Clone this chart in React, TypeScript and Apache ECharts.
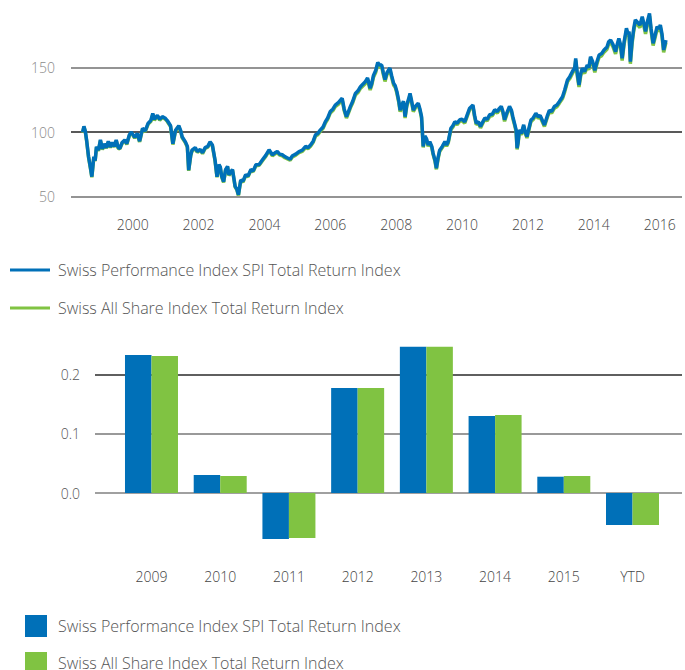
import React, { useEffect, useRef } from "react";
import * as echarts from "echarts";

const SERIES_A = "Swiss Performance Index SPI Total Return Index";
const SERIES_B = "Swiss All Share Index Total Return Index";

// Line chart: dates as decimal years
const lineDates: number[] = [
  1998.48, 1998.52, 1998.56, 1998.6, 1998.66, 1998.72, 1998.76, 1998.82, 1998.86, 1998.9, 1998.96,
  1999.02, 1999.08, 1999.14, 1999.2, 1999.26, 1999.32, 1999.38, 1999.44, 1999.5, 1999.56, 1999.61, 1999.68, 1999.76, 1999.82, 1999.9, 1999.96,
  2000.06, 2000.14, 2000.21, 2000.3, 2000.38, 2000.47, 2000.55, 2000.61, 2000.66, 2000.75, 2000.82, 2000.9, 2000.98,
  2001.05, 2001.15, 2001.22, 2001.3, 2001.4, 2001.46, 2001.5, 2001.6, 2001.66, 2001.7, 2001.76, 2001.8, 2001.9, 2001.96,
  2002.05, 2002.12, 2002.2, 2002.28, 2002.35, 2002.42, 2002.5, 2002.56, 2002.62, 2002.66, 2002.7, 2002.76, 2002.82, 2002.88, 2002.92,
  2003.0, 2003.03, 2003.08, 2003.11, 2003.16, 2003.21, 2003.28, 2003.35, 2003.43, 2003.5, 2003.59, 2003.66, 2003.74, 2003.84, 2003.94,
  2004.04, 2004.14, 2004.24, 2004.32, 2004.39, 2004.46, 2004.54, 2004.62, 2004.7, 2004.78, 2004.85, 2004.95,
  2005.05, 2005.15, 2005.25, 2005.32, 2005.4, 2005.48, 2005.55, 2005.62, 2005.7, 2005.78, 2005.85, 2005.92,
  2006.0, 2006.08, 2006.15, 2006.25, 2006.36, 2006.42, 2006.49, 2006.55, 2006.61, 2006.68, 2006.76, 2006.84, 2006.91, 2006.98,
  2007.06, 2007.13, 2007.21, 2007.26, 2007.31, 2007.38, 2007.44, 2007.5, 2007.56, 2007.61, 2007.66, 2007.72, 2007.81, 2007.86, 2007.92, 2007.97,
  2008.02, 2008.08, 2008.12, 2008.17, 2008.22, 2008.27, 2008.32, 2008.38, 2008.42, 2008.47, 2008.52, 2008.58, 2008.67, 2008.72, 2008.77, 2008.82, 2008.87, 2008.92, 2008.97,
  2009.02, 2009.08, 2009.12, 2009.18, 2009.22, 2009.27, 2009.32, 2009.4, 2009.48, 2009.53, 2009.58, 2009.66, 2009.72, 2009.78, 2009.85, 2009.93,
  2010.0, 2010.08, 2010.15, 2010.23, 2010.33, 2010.38, 2010.43, 2010.5, 2010.56, 2010.63, 2010.69, 2010.76, 2010.84, 2010.92, 2010.99,
  2011.07, 2011.12, 2011.19, 2011.24, 2011.29, 2011.36, 2011.44, 2011.5, 2011.54, 2011.6, 2011.64, 2011.67, 2011.7, 2011.74, 2011.8, 2011.87, 2011.92, 2011.97,
  2012.04, 2012.09, 2012.16, 2012.24, 2012.31, 2012.37, 2012.44, 2012.5, 2012.58, 2012.65, 2012.72, 2012.8, 2012.88, 2012.95,
  2013.05, 2013.12, 2013.2, 2013.27, 2013.35, 2013.42, 2013.45, 2013.5, 2013.55, 2013.6, 2013.65, 2013.72, 2013.8, 2013.85, 2013.9, 2013.96,
  2014.03, 2014.1, 2014.16, 2014.24, 2014.31, 2014.4, 2014.45, 2014.51, 2014.58, 2014.66, 2014.71, 2014.76, 2014.81, 2014.86, 2014.92, 2014.99,
  2015.04, 2015.07, 2015.11, 2015.16, 2015.21, 2015.26, 2015.33, 2015.4, 2015.47, 2015.52, 2015.57, 2015.63, 2015.69, 2015.74, 2015.8, 2015.86, 2015.92, 2015.97,
  2016.02, 2016.07, 2016.12, 2016.16, 2016.19,
];

const spiValues: number[] = [
  100, 104.5, 101, 94, 81, 72, 65.5, 81, 78, 88.7, 86,
  94, 87, 91, 88, 93, 88.5, 92, 89, 94, 88, 87.5, 92, 94, 91, 98, 100,
  96, 99, 93, 103, 101, 107, 109, 114.5, 110, 113, 110, 112, 111,
  109, 105, 91, 101.5, 105, 101, 96.5, 92.5, 89, 70.6, 82, 86, 88, 85,
  86.6, 84, 88, 89, 92.5, 90, 78.4, 65.5, 75, 73, 66, 61.6, 71, 73.5, 67,
  70, 71, 63, 58, 56, 51.5, 63, 62, 67, 66, 71, 70, 74.7, 75, 78.6,
  82, 86.3, 82.5, 84, 85, 83, 82.5, 81, 80, 79, 81.7, 83,
  85, 86, 89, 88, 90, 93, 98, 99, 101.8, 104, 108.2, 111,
  116, 118, 121, 123, 126.3, 118, 112, 116, 120, 124, 130, 132, 135, 137,
  139, 142, 134, 138, 144, 148, 154, 152, 152, 146, 140.7, 146, 149.7, 144, 138, 136,
  131.6, 124, 117, 121, 124, 112, 121, 126, 130, 124, 117, 120, 122.5, 118, 112, 89, 97, 95, 90,
  92.7, 89, 83.7, 78, 72, 80, 86, 89, 92.7, 90, 92.7, 103, 105, 108, 107, 109.6,
  110, 108, 113, 118.6, 121, 113, 107, 108, 104.4, 108, 111, 110, 113.5, 114, 117.4,
  116, 118, 120, 116, 109.6, 115, 120, 117, 112, 106, 101.8, 87.6, 92, 101.8, 99, 105.7, 100, 96.6,
  104, 109.4, 111, 114.6, 112, 113, 109, 105.6, 112, 117, 116, 119.8, 121, 123.6,
  127.5, 133, 140.4, 143, 147, 150, 157.2, 145, 136.6, 145, 149.5, 147, 152, 150, 158.5, 155,
  148, 155, 159.8, 161, 163.7, 166, 170, 171.4, 168, 162.4, 168, 172.7, 168, 157.2, 170, 180.5,
  176, 178, 154.7, 170, 180, 187, 185, 183, 189.5, 184, 178, 186, 192, 180, 168.9, 175, 181.8, 180,
  183, 176, 163.7, 168, 171.4,
];

const allShareValues: number[] = [
  99.6, 104, 100.5, 93.5, 80.5, 71.5, 65, 80.5, 77.5, 88.2, 85.5,
  93.5, 86.5, 90.5, 87.5, 92.4, 88, 91.5, 88.5, 93.4, 87.5, 87, 91.4, 93.4, 90.5, 97.4, 99.4,
  95.4, 98.4, 92.4, 102.4, 100.4, 106.3, 108.3, 113.8, 109.3, 112.3, 109.3, 111.3, 110.3,
  108.3, 104.3, 90.4, 100.8, 104.3, 100.3, 95.8, 91.8, 88.3, 70, 81.4, 85.4, 87.3, 84.4,
  86, 83.4, 87.4, 88.3, 91.8, 89.3, 77.8, 65, 74.4, 72.4, 65.4, 61, 70.4, 72.9, 66.4,
  69.4, 70.4, 62.5, 57.5, 55.5, 51, 62.4, 61.4, 66.4, 65.4, 70.4, 69.4, 74, 74.3, 77.9,
  81.2, 85.5, 81.7, 83.2, 84.2, 82.2, 81.7, 80.2, 79.2, 78.2, 80.9, 82.2,
  84.2, 85.1, 88.1, 87.1, 89.1, 92.1, 97, 98, 100.8, 103, 107.1, 109.9,
  114.9, 116.8, 119.8, 121.8, 125, 116.8, 110.9, 114.8, 118.8, 122.8, 128.7, 130.7, 133.7, 135.6,
  137.6, 140.6, 132.7, 136.6, 142.6, 146.5, 152.5, 150.5, 150.5, 144.6, 139.3, 144.6, 148.2, 142.6, 136.6, 134.7,
  130.3, 122.8, 115.8, 119.8, 122.8, 110.9, 119.8, 124.8, 128.7, 122.8, 115.8, 118.8, 121.2, 116.8, 110.9, 88.1, 96, 94, 89.1,
  91.7, 88.1, 82.8, 77.2, 71.2, 79.1, 85.1, 88.1, 91.7, 89.1, 91.7, 101.9, 103.9, 106.9, 105.9, 108.5,
  108.8, 106.9, 111.8, 117.4, 119.8, 111.8, 105.9, 106.9, 103.3, 106.9, 109.8, 108.8, 112.3, 112.8, 116.1,
  114.8, 116.8, 118.7, 114.8, 108.4, 113.8, 118.7, 115.8, 110.8, 104.9, 100.7, 86.6, 91, 100.7, 97.9, 104.5, 98.9, 95.5,
  102.9, 108.2, 109.8, 113.4, 110.8, 111.8, 107.8, 104.4, 110.8, 115.8, 114.8, 118.5, 119.7, 122.3,
  126.1, 131.6, 139, 141.5, 145.5, 148.4, 155.6, 143.4, 135.1, 143.4, 148, 145.5, 150.4, 148.4, 156.8, 153.4,
  146.4, 153.4, 158.1, 159.3, 162, 164.3, 168.2, 169.6, 166.2, 160.7, 166.2, 170.9, 166.3, 155.5, 168.2, 178.6,
  174.2, 176.1, 153, 168.2, 178.1, 185.1, 183.1, 181.1, 187.6, 182.1, 176.1, 184.1, 190, 178.1, 167.1, 173.2, 179.9, 178.1,
  181.1, 174.2, 161.9, 166.2, 169.6,
];

const yearTickLabels: number[] = [2000, 2002, 2004, 2006, 2008, 2010, 2012, 2014, 2016];

// Bar chart
const barCategories: string[] = ["2009", "2010", "2011", "2012", "2013", "2014", "2015", "YTD"];
const spiReturns: number[] = [0.2327, 0.0304, -0.0776, 0.177, 0.2467, 0.1298, 0.0275, -0.054];
const allShareReturns: number[] = [0.231, 0.0287, -0.0759, 0.177, 0.2467, 0.1315, 0.0287, -0.054];

const BLUE = "#0070b8";
const GREEN = "#80c342";
const FONT = "'Open Sans', sans-serif";

export default function App() {
  const ref = useRef<HTMLDivElement>(null);

  useEffect(() => {
    document.body.style.margin = "0";
    if (!ref.current) return;
    const chart = echarts.init(ref.current, null, { renderer: "svg" });

    const lineA = lineDates.map((d, i) => [d, spiValues[i]]);
    const lineB = lineDates.map((d, i) => [d, allShareValues[i]]);
    const barA = spiReturns.map((v, i) => [i, v]);
    const barB = allShareReturns.map((v, i) => [i, v]);

    const isInt = (v: number) => Math.abs(v - Math.round(v)) < 1e-6;

    const legendText = {
      fontSize: 16,
      fontWeight: 300,
      color: "#555",
      lineHeight: 20,
      fontFamily: FONT,
    };

    chart.setOption({
      animation: false,
      textStyle: { fontFamily: FONT },
      grid: [
        { left: 71, right: 0, top: 3.1, bottom: 670 - 196.7 },
        { left: 95, right: 0, top: 344.8, bottom: 670 - 552.3 },
      ],
      xAxis: [
        {
          type: "value",
          gridIndex: 0,
          min: 1998.127,
          max: 2016.677,
          minInterval: 2,
          maxInterval: 2,
          axisLine: { show: false },
          axisTick: { show: false },
          splitLine: { show: false },
          axisLabel: {
            margin: 21,
            fontSize: 14,
            fontWeight: 300,
            color: "#444",
            fontFamily: FONT,
            formatter: (v: number) =>
              isInt(v) && yearTickLabels.indexOf(Math.round(v)) >= 0 ? String(Math.round(v)) : "",
          },
        },
        {
          type: "value",
          gridIndex: 1,
          min: -0.822,
          max: 7.72,
          minInterval: 1,
          maxInterval: 1,
          axisLine: { show: false, onZero: false },
          axisTick: { show: false },
          splitLine: { show: false },
          axisLabel: {
            margin: 17,
            fontSize: 14,
            fontWeight: 300,
            color: "#444",
            fontFamily: FONT,
            formatter: (v: number) => {
              if (!isInt(v)) return "";
              const i = Math.round(v);
              return i >= 0 && i < barCategories.length ? barCategories[i] : "";
            },
          },
        },
      ],
      yAxis: [
        {
          type: "value",
          gridIndex: 0,
          min: 50,
          max: 200,
          interval: 50,
          axisLine: { show: false },
          axisTick: { show: false },
          splitLine: {
            show: true,
            showMaxLine: false,
            lineStyle: { color: ["#707070", "#222222", "#707070"], width: 1.5 },
          },
          axisLabel: {
            margin: 16,
            fontSize: 14,
            fontWeight: 300,
            color: "#8a8a8a",
            fontFamily: FONT,
            showMaxLabel: false,
          },
        },
        {
          type: "value",
          gridIndex: 1,
          min: -0.1,
          max: 0.25,
          interval: 0.1,
          axisLine: { show: false },
          axisTick: { show: false },
          splitLine: {
            show: true,
            showMinLine: false,
            showMaxLine: false,
            lineStyle: { color: ["#808080", "#777777", "#2a2a2a"], width: 1.5 },
          },
          axisLabel: {
            margin: 15,
            fontSize: 14,
            fontWeight: 300,
            color: "#555",
            fontFamily: FONT,
            formatter: (v: number) => (v > -1e-6 && v < 0.2 + 1e-6 ? v.toFixed(1) : ""),
          },
        },
      ],
      legend: [
        {
          left: 10,
          top: 260,
          height: 120,
          padding: 0,
          orient: "vertical",
          icon: "rect",
          itemWidth: 40,
          itemHeight: 3,
          itemGap: 18,
          data: [SERIES_A, SERIES_B],
          textStyle: { ...legendText, padding: [0, 0, 0, 3] },
          selectedMode: false,
        },
        {
          left: 25,
          top: 615,
          height: 120,
          padding: 0,
          orient: "vertical",
          icon: "rect",
          itemWidth: 22,
          itemHeight: 22,
          itemGap: 15,
          data: [SERIES_A, SERIES_B],
          textStyle: { ...legendText, padding: [0, 0, 0, 6] },
          selectedMode: false,
        },
      ],
      series: [
        {
          name: SERIES_B,
          type: "line",
          xAxisIndex: 0,
          yAxisIndex: 0,
          data: lineB,
          showSymbol: false,
          color: GREEN,
          lineStyle: { width: 3.5, color: GREEN },
          z: 2,
        },
        {
          name: SERIES_A,
          type: "line",
          xAxisIndex: 0,
          yAxisIndex: 0,
          data: lineA,
          showSymbol: false,
          color: BLUE,
          lineStyle: { width: 3.5, color: BLUE },
          z: 3,
        },
        {
          name: SERIES_A,
          type: "bar",
          xAxisIndex: 1,
          yAxisIndex: 1,
          data: barA,
          barWidth: 26.5,
          barGap: "0%",
          color: BLUE,
          itemStyle: { color: BLUE },
        },
        {
          name: SERIES_B,
          type: "bar",
          xAxisIndex: 1,
          yAxisIndex: 1,
          data: barB,
          barWidth: 26.5,
          barGap: "0%",
          color: GREEN,
          itemStyle: { color: GREEN },
        },
      ],
    });

    return () => chart.dispose();
  }, []);

  return <div ref={ref} style={{ width: 685, height: 670 }} />;
}
